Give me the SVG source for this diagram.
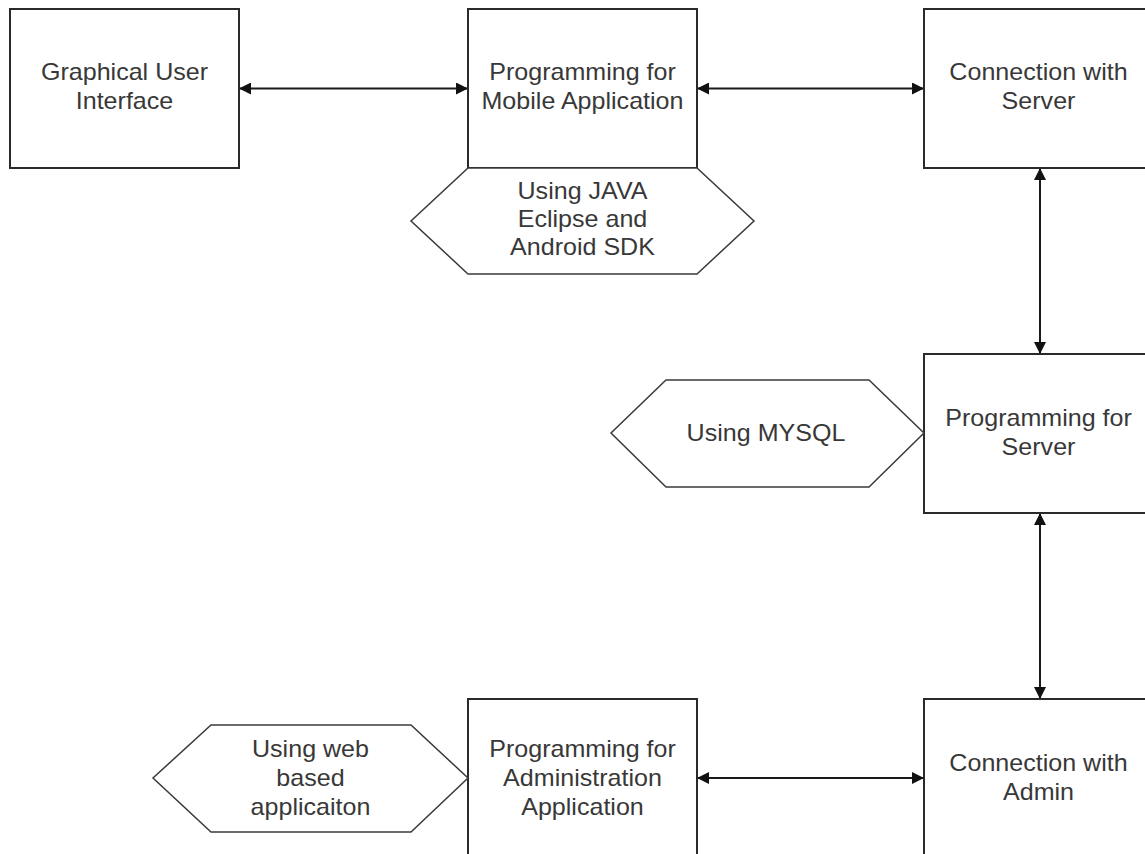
<svg xmlns="http://www.w3.org/2000/svg" width="1145" height="854" viewBox="0 0 1145 854">
<style>
.box{fill:#fff;stroke:#2a2a2a;stroke-width:2}
.hex{fill:#fff;stroke:#3a3a3a;stroke-width:1.5;stroke-linejoin:miter}
.lbl{font-family:"Liberation Sans",Arial,sans-serif;font-size:23px;fill:#383838;text-anchor:middle}
.con{fill:none;stroke:#1a1a1a;stroke-width:2;marker-start:url(#ah);marker-end:url(#ah)}
</style>
<defs>
<marker id="ah" viewBox="0 0 12 12" refX="12" refY="6" markerWidth="12" markerHeight="12" markerUnits="userSpaceOnUse" orient="auto-start-reverse">
<path d="M0,0 L12,6 L0,12 z" fill="#111"/>
</marker>
</defs>
<rect width="1145" height="854" fill="#fff"/>
<g id="connectors">
<line class="con" x1="239" y1="88.5" x2="468" y2="88.5"/>
<line class="con" x1="697" y1="88.5" x2="924" y2="88.5"/>
<line class="con" x1="1040" y1="168" x2="1040" y2="354"/>
<line class="con" x1="1040" y1="513" x2="1040" y2="699"/>
<line class="con" x1="697" y1="778" x2="924" y2="778"/>
</g>
<g id="gui">
<rect class="box" x="10" y="9" width="229" height="159"/>
<text class="lbl" transform="translate(124.5,0) scale(1.09,1)"><tspan x="0" y="80.5">Graphical User</tspan><tspan x="0" y="109.5">Interface</tspan></text>
</g>
<g id="mobile">
<rect class="box" x="468" y="9" width="229" height="159"/>
<text class="lbl" transform="translate(582.5,0) scale(1.09,1)"><tspan x="0" y="80.5">Programming for</tspan><tspan x="0" y="109.5">Mobile Application</tspan></text>
</g>
<g id="java">
<polygon class="hex" points="468,168 697,168 754,221 697,274 468,274 411,221"/>
<text class="lbl" transform="translate(582.5,0) scale(1.09,1)"><tspan x="0" y="199.5">Using JAVA</tspan><tspan x="0" y="227.5">Eclipse and</tspan><tspan x="0" y="255.5">Android SDK</tspan></text>
</g>
<g id="conn-server">
<rect class="box" x="924" y="9" width="229" height="159"/>
<text class="lbl" transform="translate(1038.5,0) scale(1.09,1)"><tspan x="0" y="80.5">Connection with</tspan><tspan x="0" y="109.5">Server</tspan></text>
</g>
<g id="prog-server">
<rect class="box" x="924" y="354" width="229" height="159"/>
<text class="lbl" transform="translate(1038.5,0) scale(1.09,1)"><tspan x="0" y="426">Programming for</tspan><tspan x="0" y="455">Server</tspan></text>
</g>
<g id="mysql">
<polygon class="hex" points="666,380 869,380 924,433 869,487 666,487 611,433"/>
<text class="lbl" transform="translate(766,0) scale(1.09,1)"><tspan x="0" y="441">Using MYSQL</tspan></text>
</g>
<g id="conn-admin">
<rect class="box" x="924" y="699" width="229" height="159"/>
<text class="lbl" transform="translate(1038.5,0) scale(1.09,1)"><tspan x="0" y="771">Connection with</tspan><tspan x="0" y="800">Admin</tspan></text>
</g>
<g id="prog-admin">
<rect class="box" x="468" y="699" width="229" height="159"/>
<text class="lbl" transform="translate(582.5,0) scale(1.09,1)"><tspan x="0" y="757">Programming for</tspan><tspan x="0" y="786">Administration</tspan><tspan x="0" y="815">Application</tspan></text>
</g>
<g id="web">
<polygon class="hex" points="211,725 411,725 468,778 411,832 211,832 153,778"/>
<text class="lbl" transform="translate(310.5,0) scale(1.09,1)"><tspan x="0" y="757">Using web</tspan><tspan x="0" y="786">based</tspan><tspan x="0" y="815">applicaiton</tspan></text>
</g>
</svg>
